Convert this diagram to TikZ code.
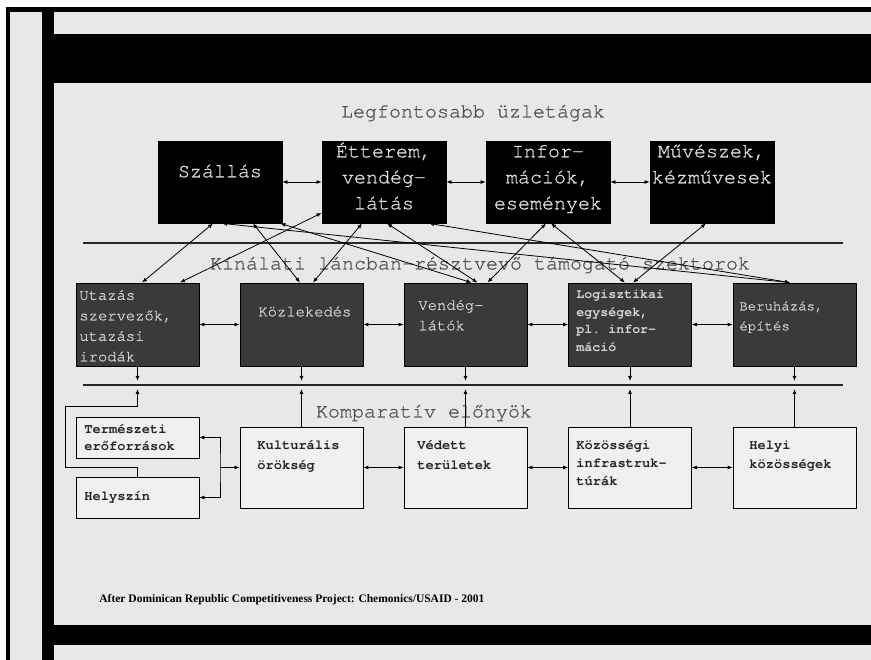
\documentclass[tikz,border=0pt]{standalone}
\usepackage{fontspec}
\setmainfont{Liberation Serif}
\setmonofont{TeX Gyre Cursor}
\newfontfamily\cursormed{TeX Gyre Cursor}[FakeBold=0.8]
\usetikzlibrary{arrows.meta}

\definecolor{bggrey}{HTML}{E8E8E8}
\definecolor{headgrey}{HTML}{505050}
\definecolor{midgrey}{HTML}{3A3A3A}
\definecolor{boxtxt}{HTML}{E2E2E2}
\definecolor{midtxt}{HTML}{D4D4D4}
\definecolor{lowfill}{HTML}{F0F0F0}

\begin{document}
\begin{tikzpicture}[x=1pt,y=-1pt,line width=0.8pt,>={Latex[length=5pt,width=4pt]},
	head/.style={font=\cursormed\fontsize{20}{24}\selectfont,text=headgrey,inner sep=0pt},
	topbox/.style={fill=black,draw=black,minimum width=124pt,minimum height=82pt,inner sep=0pt},
	toptext/.style={font=\cursormed\fontsize{20}{26}\selectfont,text=boxtxt,align=center,inner sep=0pt,anchor=mid},
	midbox/.style={fill=midgrey,draw=black,minimum width=123pt,minimum height=83pt,inner sep=0pt},
	midtext/.style={font=\cursormed\fontsize{15.5}{20.5}\selectfont,text=midtxt,align=left,inner sep=0pt,anchor=mid west},
	lowbox/.style={fill=lowfill,draw=black,minimum width=123pt,minimum height=81pt,inner sep=0pt},
	lowtext/.style={font=\ttfamily\bfseries\fontsize{13.7}{19}\selectfont,text=black!85,align=left,inner sep=0pt,anchor=mid west},
	sepline/.style={line width=2pt,draw=black!85}]
	\useasboundingbox (0,0) rectangle (871,660);

	%frame
	\fill[white] (0,0) rectangle (871,660);
	\fill[black] (6,7) rectangle (871,660);
	\fill[bggrey] (10,12) rectangle (871,660);
	\fill[black] (42,12) rectangle (54,660);
	\fill[black] (54,34) rectangle (871,83);
	\fill[black] (54,625) rectangle (871,645);

	%headings
	\node[head] (title) at (473,113) {Legfontosabb üzletágak};
	\node[head] (sub1) at (480,265) {Kínálati láncban-résztvevő támogató szektorok};
	\node[head] (sub2) at (424,413) {Komparatív előnyök};

	%separator lines
	\coordinate (s1a) at (83,243); \coordinate (s1b) at (843,243);
	\coordinate (s2a) at (83,385); \coordinate (s2b) at (843,385);
	\draw[sepline] (s1a) -- (s1b);
	\draw[sepline] (s2a) -- (s2b);

	%top row (text nodes sit on their last line)
	\node[topbox] (szallas) at (220,182) {};
	\node[topbox] (etterem) at (384,182) {};
	\node[topbox] (info) at (548,182) {};
	\node[topbox] (muvesz) at (712,182) {};
	\node[toptext] (szallas-t) at (220,175) {Szállás};
	\node[toptext] (etterem-t) at (384,207) {Étterem,\\vendég-\\látás};
	\node[toptext] (info-t) at (548,207) {Infor-\\mációk,\\események};
	\node[toptext] (muvesz-t) at (712,181) {Művészek,\\kézművesek};

	%middle row
	\node[midbox] (utazas) at (137.5,324.5) {};
	\node[midbox] (kozlek) at (301.5,324.5) {};
	\node[midbox] (vendeg) at (465.5,324.5) {};
	\node[midbox] (logiszt) at (630,324.5) {};
	\node[midbox] (beruh) at (794.5,324.5) {};
	\node[midtext] (utazas-t) at (79,359) {Utazás\\szervezők,\\utazási\\irodák};
	\node[midtext] (kozlek-t) at (258,314) {Közlekedés};
	\node[midtext] (vendeg-t) at (418,328) {Vendég-\\látók};
	\node[midtext,font=\ttfamily\bfseries\fontsize{13.3}{17.5}\selectfont] (logiszt-t) at (576,349) {Logisztikai\\egységek,\\pl. infor-\\máció};
	\node[midtext,font=\cursormed\fontsize{14}{20}\selectfont] (beruh-t) at (739,328) {Beruházás,\\építés};

	%bottom row
	\node[lowbox,minimum height=41pt] (termeszet) at (137.5,437.5) {};
	\node[lowbox,minimum height=41pt] (helyszin) at (137.5,497.5) {};
	\node[lowbox] (kultur) at (301.5,467.5) {};
	\node[lowbox] (vedett) at (465.5,467.5) {};
	\node[lowbox] (kozoss) at (630,467.5) {};
	\node[lowbox] (helyi) at (794.5,467.5) {};
	\node[lowtext,font=\ttfamily\bfseries\fontsize{13.7}{17}\selectfont] (termeszet-t) at (84,448) {Természeti\\erőforrások};
	\node[lowtext] (helyszin-t) at (84,498) {Helyszín};
	\node[lowtext,font=\ttfamily\bfseries\fontsize{13.7}{20}\selectfont] (kultur-t) at (257,467) {Kulturális\\örökség};
	\node[lowtext,font=\ttfamily\bfseries\fontsize{13.7}{20}\selectfont] (vedett-t) at (417,467) {Védett\\területek};
	\node[lowtext,font=\ttfamily\bfseries\fontsize{13.7}{18}\selectfont] (kozoss-t) at (576,483) {Közösségi\\infrastruk-\\túrák};
	\node[lowtext] (helyi-t) at (749,466) {Helyi\\közösségek};

	%top row arrows
	\draw[<->] (szallas.east) -- (etterem.west);
	\draw[<->] (etterem.east) -- (info.west);
	\draw[<->] (info.east) -- (muvesz.west);

	%cross links between the rows
	\draw[<->] ([xshift=4.5pt]utazas.north) -- ([xshift=-7pt]szallas.south);
	\draw[<->] ([xshift=42.5pt]utazas.north) -- ([yshift=-31pt]etterem.west);
	\draw[<->] ([xshift=-1.5pt]kozlek.north) -- ([xshift=33pt]szallas.south);
	\draw[<->] ([xshift=11.5pt]kozlek.north) -- ([xshift=-22pt]etterem.south);
	\draw[<->] ([xshift=6pt]vendeg.north) -- ([xshift=-2pt]szallas.south east);
	\draw[<->] ([xshift=12pt]vendeg.north) -- ([xshift=3pt]etterem.south);
	\draw[<->] ([xshift=22pt]vendeg.north) -- ([xshift=-2pt]info.south);
	\draw[<->] ([xshift=-5pt]logiszt.north) -- ([xshift=3pt]info.south);
	\draw[<->] ([xshift=3pt]logiszt.north) -- ([xshift=-6pt]muvesz.south);
	\draw[<->] ([xshift=-4.5pt]beruh.north) -- ([xshift=2pt]szallas.south);
	\draw[<->] ([xshift=-4.5pt]beruh.north) -- ([xshift=45pt]etterem.south);

	%middle row arrows
	\draw[<->] (utazas.east) -- (kozlek.west);
	\draw[<->] (kozlek.east) -- (vendeg.west);
	\draw[<->] (vendeg.east) -- (logiszt.west);
	\draw[<->] (logiszt.east) -- (beruh.west);
	\foreach \n in {utazas,kozlek,vendeg,logiszt,beruh}
		\draw[->] (\n.south) -- ([yshift=4pt]\n.south |- s2a);

	%bottom row arrows
	\foreach \n in {kultur,vedett,kozoss,helyi}
		\draw[->] (\n.north) -- ([yshift=-4pt]\n.north |- s2a);
	\draw[->] (helyszin.north) -- ++(0,-9) -| (65,406) -| ([yshift=-4pt]termeszet.north |- s2a);
	\coordinate (kb) at (220,467.5);
	\draw[<->] (termeszet.east) -| (kb) |- (helyszin.east);
	\draw[->] (kb) -- (kultur.west);
	\draw[<->] (kultur.east) -- (vedett.west);
	\draw[<->] (vedett.east) -- (kozoss.west);
	\draw[<->] (kozoss.east) -- (helyi.west);

	%source
	\node[font=\rmfamily\bfseries\fontsize{11.5}{14}\selectfont,anchor=mid west,inner sep=0pt] (source) at (99,600) {After Dominican Republic Competitiveness Project: Chemonics/USAID - 2001};
\end{tikzpicture}
\end{document}
